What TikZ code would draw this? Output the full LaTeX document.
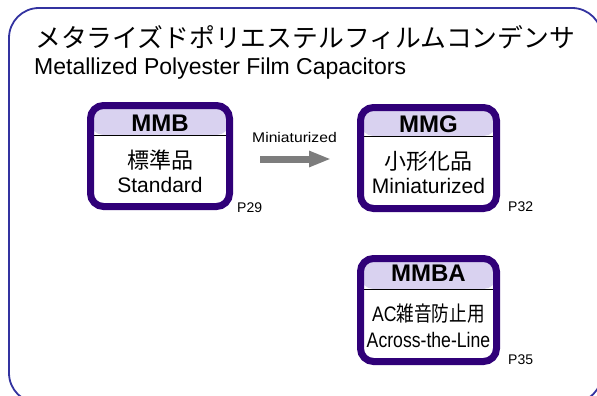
\documentclass[tikz,border=0pt]{standalone}
\usepackage{fontspec}
\usepackage{graphicx}
\setmainfont{Liberation Sans}
\newfontfamily\jpfont{Noto Sans CJK JP}
\usetikzlibrary{positioning, calc, arrows.meta}
\definecolor{frameblue}{RGB}{51,51,160}
\definecolor{boxviolet}{RGB}{48,0,120}
\definecolor{headviolet}{RGB}{217,210,240}
\definecolor{arrowgray}{RGB}{125,125,125}

\begin{document}
\begin{tikzpicture}[x=1pt, y=-1pt,
        series/.style={draw=boxviolet, line width=7pt, rounded corners=13pt, fill=white,
            minimum height=101pt, inner sep=0pt,
            path picture={
                \fill[headviolet] (path picture bounding box.north west) rectangle ([yshift=-#1]path picture bounding box.north east);
                \draw[black, line width=0.8pt] ([yshift=-#1]path picture bounding box.north west) -- ([yshift=-#1]path picture bounding box.north east);
            }},
        code/.style={font=\bfseries\fontsize{24}{24}\selectfont, inner sep=0pt},
        body/.style={font=\fontsize{21}{21}\selectfont, inner sep=0pt},
        page/.style={font=\fontsize{14}{14}\selectfont, anchor=west, inner sep=0pt}]
        \useasboundingbox (0,0) rectangle (597,396);
        \clip (0,0) rectangle (597,396);
        \draw[frameblue, line width=1.8pt, rounded corners=30pt] (9,8) rectangle (602,403);
        \node[anchor=west, inner sep=0pt] (title-jp) at (35,38) {\jpfont\fontsize{25.8}{25.8}\selectfont メタライズドポリエステルフィルムコンデンサ};
        \node[anchor=west, inner sep=0pt] (title-en) at (34,69) {\fontsize{23}{23}\selectfont Metallized Polyester Film Capacitors};

        % standard series
        \node[series=29.5pt, minimum width=139pt] (mmb) at (160,156) {};
        \node[code] (mmb-code) at (160,123) {MMB};
        \node[body] (mmb-jp) at (160,160) {\jpfont\fontsize{22}{22}\selectfont 標準品};
        \node[body] (mmb-en) at (160,185) {Standard};
        \node[page] (mmb-page) at (237,208) {P29};

        % miniaturized series
        \node[series=28.5pt, minimum width=136pt] (mmg) at (428.5,158) {};
        \node[code] (mmg-code) at (428.5,124) {MMG};
        \node[body] (mmg-jp) at (428.5,161) {\jpfont\fontsize{22}{22}\selectfont 小形化品};
        \node[body] (mmg-en) at (428.5,186) {Miniaturized};
        \node[page] (mmg-page) at (508,207) {P32};

        % across-the-line series
        \node[series=30.5pt, minimum width=136pt, minimum height=103pt] (mmba) at (428.5,310) {};
        \node[code] (mmba-code) at (428.5,273) {MMBA};
        \node[body] (mmba-jp) at (428.5,314) {\scalebox{0.84}[1]{AC\jpfont 雑音防止用}};
        \node[body] (mmba-en) at (428.5,340) {\scalebox{0.84}[1]{Across-the-Line}};
        \node[page] (mmba-page) at (508,360) {P35};

        \coordinate (shrink-from) at (260,159);
        \coordinate (shrink-to) at (331,159);
        \draw[arrowgray, line width=7pt, -{Triangle[length=22pt, width=15pt]}] (shrink-from) -- (shrink-to);
        \node[font=\fontsize{14}{14}\selectfont, inner sep=0pt] (shrink-label) at (294.5,137) {\scalebox{1.12}[1]{Miniaturized}};
    \end{tikzpicture}
\end{document}
